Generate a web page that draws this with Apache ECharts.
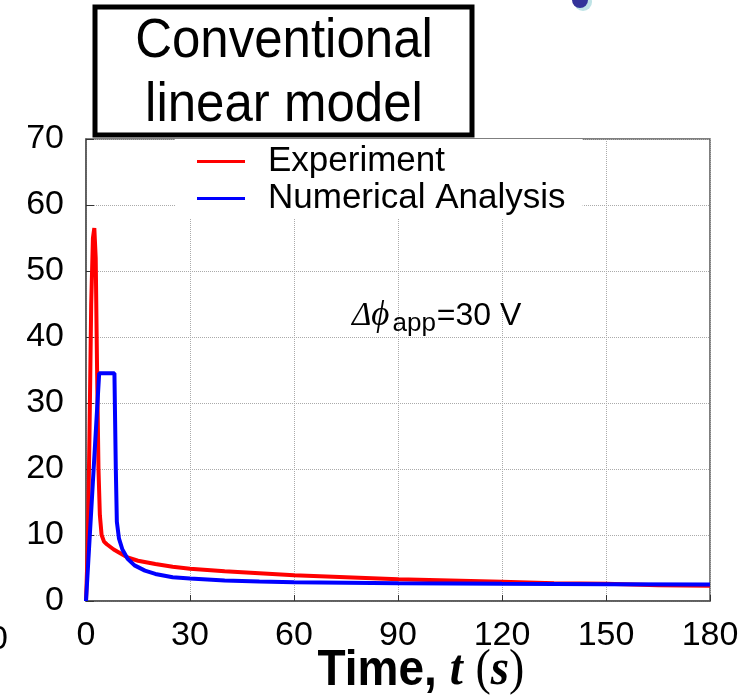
<!DOCTYPE html>
<html><head><meta charset="utf-8">
<script src="https://cdn.jsdelivr.net/npm/echarts@6/dist/echarts.min.js"></script>
<style>html,body{margin:0;padding:0;background:#fff}#c{width:749px;height:700px}</style>
</head><body><div id="c"></div>
<script>
const xTicks = [0, 30, 60, 90, 120, 150, 180];
const yTicks = [0, 10, 20, 30, 40, 50, 60, 70];
const seriesNames = ['Experiment', 'Numerical Analysis'];
const expT = [0, 0.5, 1, 1.5, 2, 2.4, 2.8, 3.2, 3.6, 4, 4.5, 5.2, 6, 8, 10, 12, 15, 20, 25, 30, 40, 50, 60, 75, 90, 105, 120, 135, 150, 165, 180];
const expV = [0, 8, 25, 45, 55, 56.5, 52, 35, 20, 13, 10, 9, 8.6, 7.8, 7.2, 6.6, 6.1, 5.6, 5.2, 4.9, 4.5, 4.2, 3.9, 3.6, 3.3, 3.1, 2.9, 2.7, 2.6, 2.4, 2.3];
const numT = [0, 3.8, 8.2, 8.6, 8.9, 9.5, 10.5, 12, 14, 17, 20, 25, 30, 40, 50, 60, 90, 120, 150, 180];
const numV = [0, 34.5, 34.5, 20, 12, 9.5, 7.8, 6.4, 5.4, 4.6, 4.1, 3.6, 3.4, 3.1, 2.95, 2.85, 2.7, 2.6, 2.55, 2.5];

const chart = echarts.init(document.getElementById('c'), null, {renderer: 'canvas'});
const font = '"Liberation Sans", Arial, sans-serif';
chart.setOption({
  animation: false,
  grid: {left: 86, top: 139, width: 624, height: 462, show: true, borderColor: '#555', borderWidth: 1.5, backgroundColor: 'transparent'},
  xAxis: {
    type: 'value', min: xTicks[0], max: xTicks[xTicks.length - 1], interval: 30,
    axisLine: {show: true, lineStyle: {color: '#555', width: 1.5}},
    axisTick: {show: true, inside: true, length: 6, lineStyle: {color: '#333'}},
    axisLabel: {fontSize: 34, color: '#000', fontFamily: font, margin: 18},
    splitLine: {show: true, lineStyle: {type: 'dotted', color: '#aaa', width: 1}}
  },
  yAxis: {
    type: 'value', min: yTicks[0], max: yTicks[yTicks.length - 1], interval: 10,
    axisLine: {show: true, lineStyle: {color: '#555', width: 1.5}},
    axisTick: {show: true, inside: true, length: 8, lineStyle: {color: '#333'}},
    axisLabel: {fontSize: 34, color: '#000', fontFamily: font, margin: 22},
    splitLine: {show: true, lineStyle: {type: 'dotted', color: '#aaa', width: 1}}
  },
  legend: {
    orient: 'vertical', left: 175, top: 139,
    backgroundColor: '#fff', padding: [5, 17, 2, 22],
    icon: 'rect', itemWidth: 48, itemHeight: 3, itemGap: 2,
    textStyle: {fontSize: 35, color: '#000', fontFamily: font, lineHeight: 30, padding: [0, 0, 0, 18]},
    data: seriesNames
  },
  series: [
    {name: seriesNames[0], type: 'line', symbol: 'none', color: '#ff0000', lineStyle: {width: 4, color: '#ff0000'},
     data: expT.map((t, i) => [t, expV[i]]), z: 3},
    {name: seriesNames[1], type: 'line', symbol: 'none', color: '#0000ff', lineStyle: {width: 4, color: '#0000ff'},
     data: numT.map((t, i) => [t, numV[i]]), z: 4}
  ],
  graphic: [
    {type: 'rect', shape: {x: 95, y: 7, width: 377, height: 128}, style: {fill: '#fff', stroke: '#000', lineWidth: 5}, z: 10},
    {type: 'text', x: 284, y: 74, z: 11, scaleY: 1.08, style: {text: 'Conventional\nlinear model', font: '51px "Liberation Sans", Arial, sans-serif', fill: '#000', align: 'center', verticalAlign: 'middle', lineHeight: 59}},
    {type: 'text', x: 352, y: 316, z: 11, style: {
      text: '{d|Δ}{p|ϕ}{s|app}{n|=30 V}',
      verticalAlign: 'middle',
      rich: {
        d: {font: 'italic 33px "Liberation Serif", serif', fill: '#000'},
        p: {font: 'italic 35px "Liberation Serif", serif', fill: '#000'},
        s: {font: '26px "Liberation Sans", Arial, sans-serif', fill: '#000', padding: [16, 1, 0, 3]},
        n: {font: '32px "Liberation Sans", Arial, sans-serif', fill: '#000'}
      }}},
    {type: 'text', x: 421, y: 671, z: 11, scaleY: 1.08, style: {
      text: '{a|Time, }{t|t}{a| }{b|(}{t|s}{b|)}',
      align: 'center', verticalAlign: 'middle',
      rich: {
        a: {font: 'bold 46px "Liberation Sans", Arial, sans-serif', fill: '#000'},
        t: {font: 'italic bold 47px "Liberation Serif", serif', fill: '#000'},
        b: {font: '46px "Liberation Serif", serif', fill: '#000'}
      }}},
    {type: 'text', x: -11, y: 640, z: 11, style: {text: '0', font: '34px "Liberation Sans", Arial, sans-serif', fill: '#000', verticalAlign: 'middle'}},
    {type: 'circle', shape: {cx: 583, cy: 2, r: 9}, style: {fill: '#bfe3e6'}, z: 9},
    {type: 'circle', shape: {cx: 580, cy: 0, r: 8}, style: {fill: '#333399'}, z: 10}
  ]
});
</script></body></html>
